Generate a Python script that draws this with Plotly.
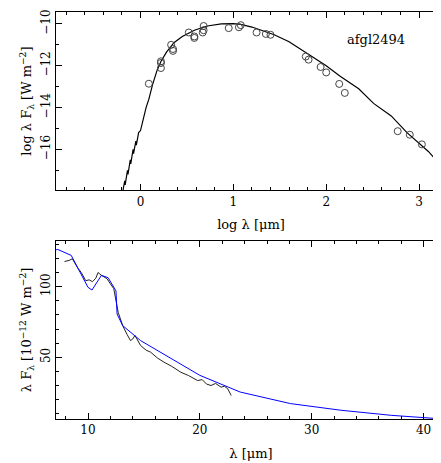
import plotly.graph_objects as go

# top panel: SED, log lambda vs log lambda F_lambda
obs_logl = [0.09, 0.22, 0.22, 0.22, 0.33, 0.35, 0.35, 0.52, 0.58, 0.58, 0.67, 0.68, 0.68,
            0.95, 1.06, 1.08, 1.25, 1.35, 1.40, 1.78, 1.81, 1.94, 2.00, 2.14, 2.20, 2.77, 2.90, 3.03]
obs_logf = [-12.86, -11.79, -11.87, -12.11, -11.00, -11.20, -11.29, -10.41, -10.60, -10.67,
            -10.41, -10.10, -10.30, -10.20, -10.16, -10.06, -10.41, -10.48, -10.52, -11.56,
            -11.71, -12.06, -12.32, -12.87, -13.30, -15.13, -15.30, -15.76]
mod_logl = [-0.19, -0.17, -0.165, -0.14, -0.135, -0.11, -0.105, -0.08, -0.075, -0.05, -0.045,
            -0.02, 0.0, 0.03, 0.06, 0.09, 0.13, 0.18, 0.22, 0.28, 0.36, 0.45, 0.58, 0.72, 0.87,
            1.0, 1.08, 1.2, 1.44, 1.6, 1.79, 2.0, 2.15, 2.35, 2.51, 2.7, 2.87, 3.1, 3.3]
mod_logf = [-18.0, -17.5, -17.7, -17.0, -17.2, -16.5, -16.7, -16.0, -16.2, -15.6, -15.8,
            -15.2, -15.1, -14.5, -14.0, -13.6, -12.9, -12.2, -11.8, -11.35, -10.9, -10.6, -10.3,
            -10.1, -10.0, -9.99, -10.02, -10.15, -10.52, -10.85, -11.4, -12.0, -12.5, -13.1,
            -13.8, -14.4, -15.2, -16.1, -17.1]
top_yticks = [-16, -14, -12, -10]

# bottom panel: IR spectrum vs model
spec_l = [7.9, 8.3, 8.6, 8.9, 9.1, 9.4, 9.8, 10.1, 10.4, 10.7, 10.9, 11.2, 11.7, 12.0, 12.3,
          12.7, 13.1, 13.5, 13.8, 14.0, 14.2, 14.7, 15.2, 15.6, 16.2, 16.8, 17.5, 18.3, 19.0,
          19.8, 20.2, 20.6, 21.0, 21.4, 21.9, 22.2, 22.5, 22.8]
spec_f = [117.8, 118.5, 119.7, 115.0, 113.0, 110.0, 104.2, 104.8, 103.5, 106.0, 110.0, 108.0,
          105.6, 102.0, 98.6, 81.8, 72.4, 66.0, 61.8, 63.0, 65.4, 58.3, 55.0, 53.6, 49.5,
          46.5, 43.5, 39.4, 37.0, 33.5, 34.2, 31.0, 30.0, 31.5, 28.8, 29.5, 27.6, 22.9]
mod_l = [7.1, 7.3, 8.5, 9.4, 10.0, 10.36, 10.7, 11.2, 11.8, 12.5, 12.6, 13.1, 14.7, 17.7,
         20.0, 23.6, 28.1, 32.6, 37.1, 42.1]
mod_f = [126.0, 126.3, 122.1, 108.0, 99.5, 97.6, 102.0, 108.0, 106.3, 97.0, 80.6, 72.4,
         61.8, 47.7, 37.2, 25.4, 17.2, 12.5, 8.9, 6.1]

FONT = "DejaVu Serif"

fig = go.Figure()
fig.add_trace(go.Scatter(x=mod_logl, y=mod_logf, mode="lines",
                         line=dict(color="black", width=1.2), xaxis="x", yaxis="y"))
fig.add_trace(go.Scatter(x=obs_logl, y=obs_logf, mode="markers",
                         marker=dict(symbol="circle-open", size=7, color="#444", line=dict(width=1)),
                         xaxis="x", yaxis="y"))
fig.add_trace(go.Scatter(x=spec_l, y=spec_f, mode="lines",
                         line=dict(color="#222", width=1), xaxis="x2", yaxis="y2"))
fig.add_trace(go.Scatter(x=mod_l, y=mod_f, mode="lines",
                         line=dict(color="blue", width=1), xaxis="x2", yaxis="y2"))

ax = dict(showline=True, mirror="allticks", linecolor="black", linewidth=1, ticks="inside",
          ticklen=6, tickcolor="black", showgrid=False, zeroline=False,
          ticklabeloverflow="allow",
          tickfont=dict(family=FONT, size=12, color="black"))
mn = lambda d: dict(dtick=d, ticks="inside", ticklen=3, tickcolor="black", showgrid=False)

fig.update_layout(
    width=441, height=463, margin=dict(l=48, r=2, t=2, b=52),
    plot_bgcolor="white", paper_bgcolor="white", showlegend=False,
    font=dict(family=FONT, color="black"),
    xaxis=dict(ax, domain=[0, 1], range=[-0.91, 3.29], dtick=1, anchor="y", minor=mn(0.2),
               title=dict(text="log λ [μm]", font=dict(size=13), standoff=12)),
    yaxis=dict(ax, domain=[0.5623, 1], range=[-17.95, -9.43], tickmode="array",
               tickvals=top_yticks, tickangle=-90, anchor="x", minor=mn(1),
               title=dict(text="log λ F<sub>λ</sub> [W m<sup>−2</sup>]", font=dict(size=13), standoff=4)),
    xaxis2=dict(ax, domain=[0, 1], range=[7.14, 42.0], dtick=10, anchor="y2", minor=mn(2),
                title=dict(text="λ [μm]", font=dict(size=13), standoff=12)),
    yaxis2=dict(ax, domain=[0, 0.4377], range=[6.3, 132.4], dtick=50, tickangle=-90, anchor="x2",
                minor=mn(10),
                title=dict(text="λ F<sub>λ</sub> [10<sup>−12</sup> W m<sup>−2</sup>]",
                           font=dict(size=13), standoff=4)),
    annotations=[dict(text="afgl2494", x=0.82, y=0.955, xref="paper", yref="paper",
                      showarrow=False, xanchor="center", font=dict(family=FONT, size=13))],
)

fig.write_html("out.html")
